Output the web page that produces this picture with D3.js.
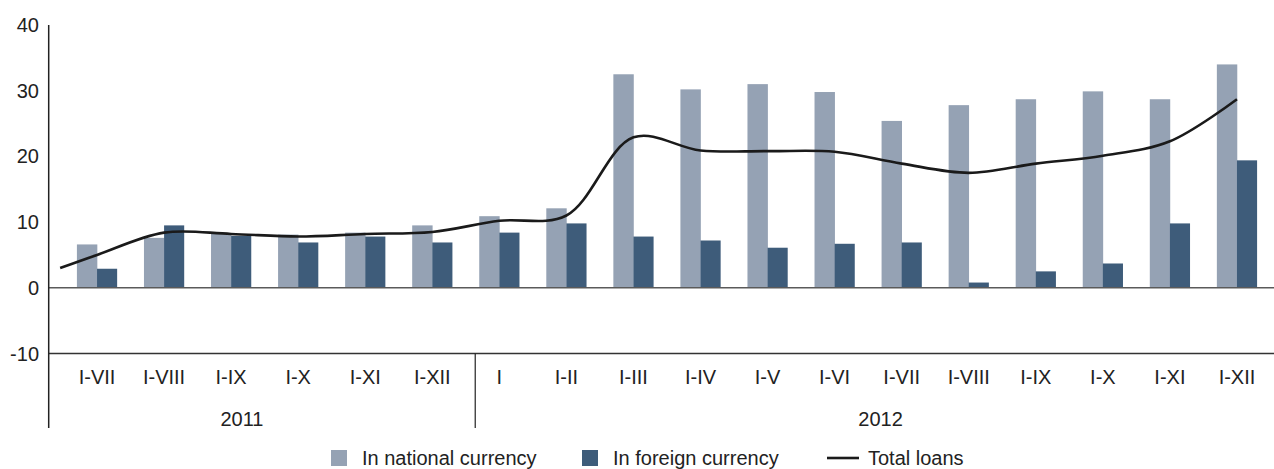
<!DOCTYPE html>
<html>
<head>
<meta charset="utf-8">
<script src="https://cdn.jsdelivr.net/npm/d3@7"></script>
<style>
  html, body { margin: 0; padding: 0; background: #fff; }
  svg { display: block; }
  text { font-family: "Liberation Sans", Arial, sans-serif; fill: #222; }
</style>
</head>
<body>
<svg id="chart" width="1274" height="469"></svg>
<script>
// ---- data ----
const categories = ["I-VII","I-VIII","I-IX","I-X","I-XI","I-XII",
                    "I","I-II","I-III","I-IV","I-V","I-VI","I-VII","I-VIII","I-IX","I-X","I-XI","I-XII"];
const years = ["2011","2012"];
const yearOfCategory = [0,0,0,0,0,0, 1,1,1,1,1,1,1,1,1,1,1,1];
const nationalCurrency = [6.6, 7.6, 8.2, 8.1, 8.4, 9.5,
                          10.9, 12.1, 32.5, 30.2, 31.0, 29.8, 25.4, 27.8, 28.7, 29.9, 28.7, 34.0];
const foreignCurrency  = [2.9, 9.5, 7.9, 6.9, 7.8, 6.9,
                          8.4, 9.8, 7.8, 7.2, 6.1, 6.7, 6.9, 0.8, 2.5, 3.7, 9.8, 19.4];
const totalLoansStart = 3.0;
const totalLoans       = [5.0, 8.4, 8.2, 7.8, 8.2, 8.5,
                          10.2, 11.0, 22.9, 20.9, 20.8, 20.7, 18.9, 17.5, 18.9, 20.1, 22.3, 28.7];
const yTicks = [-10, 0, 10, 20, 30, 40];
const seriesNames = ["In national currency", "In foreign currency", "Total loans"];

// ---- layout ----
const W = 1274, H = 469;
const axisLeft = 48.7, axisRight = 1274;
const colNat = "#95a2b4", colFor = "#3e5c7a", colLine = "#1a1a1a";

const svg = d3.select("#chart");
const keys = categories.map((c, i) => i);

const x0 = d3.scaleBand().domain(keys).range([63.5, 1270.5]).paddingInner(0.4).paddingOuter(0.2);
const x1 = d3.scaleBand().domain([0, 1]).range([0, x0.bandwidth()]).padding(0);
const y = d3.scaleLinear().domain([-10, 40]).range([353.5, 25]);
const cx = i => x0(i) + x0.bandwidth() / 2;

// y tick labels
svg.append("g").selectAll("text").data(yTicks).join("text")
  .attr("x", 39).attr("y", d => y(d)).attr("dy", "0.35em")
  .attr("text-anchor", "end").attr("font-size", 20).text(d => d);

// bars
const g = svg.append("g");
g.selectAll("rect.nat").data(nationalCurrency).join("rect").attr("class", "nat")
  .attr("x", (d, i) => x0(i) + x1(0)).attr("width", x1.bandwidth() + 0.3)
  .attr("y", d => y(Math.max(0, d))).attr("height", d => Math.abs(y(d) - y(0)))
  .attr("fill", colNat);
g.selectAll("rect.for").data(foreignCurrency).join("rect").attr("class", "for")
  .attr("x", (d, i) => x0(i) + x1(1)).attr("width", x1.bandwidth())
  .attr("y", d => y(Math.max(0, d))).attr("height", d => Math.abs(y(d) - y(0)))
  .attr("fill", colFor);

// zero line
svg.append("line").attr("x1", axisLeft).attr("x2", axisRight)
  .attr("y1", y(0)).attr("y2", y(0)).attr("stroke", "#5a5a5a").attr("stroke-width", 1.5);
// bottom line
svg.append("line").attr("x1", axisLeft).attr("x2", axisRight)
  .attr("y1", y(-10)).attr("y2", y(-10)).attr("stroke", "#333").attr("stroke-width", 1.5);
// y axis line
svg.append("line").attr("x1", axisLeft).attr("x2", axisLeft)
  .attr("y1", y(40)).attr("y2", 428).attr("stroke", "#222").attr("stroke-width", 1.5);

// year divider
const divX = cx(6) - x0.step() * 0.36;
svg.append("line").attr("x1", divX).attr("x2", divX)
  .attr("y1", y(-10)).attr("y2", 428).attr("stroke", "#222").attr("stroke-width", 1.2);

// line
const linePts = [[x0(0) - x0.step() * 0.25, totalLoansStart]]
  .concat(totalLoans.map((v, i) => [cx(i), v]));
const lineGen = d3.line().x(d => d[0]).y(d => y(d[1])).curve(d3.curveCatmullRom.alpha(0.5));
svg.append("path").attr("d", lineGen(linePts)).attr("fill", "none")
  .attr("stroke", colLine).attr("stroke-width", 2.6).attr("stroke-linejoin", "round");

// category labels
svg.append("g").selectAll("text").data(categories).join("text")
  .attr("x", (d, i) => cx(i)).attr("y", 377).attr("dy", "0.35em")
  .attr("text-anchor", "middle").attr("font-size", 20).text(d => d);

// year labels
const yearX = [(axisLeft + divX) / 2 - 20, (divX + axisRight) / 2 + 6];
svg.append("g").selectAll("text").data(years).join("text")
  .attr("x", (d, i) => yearX[i]).attr("y", 419).attr("dy", "0.35em")
  .attr("text-anchor", "middle").attr("font-size", 20).text(d => d);

// legend
const legY = 458;
const leg = svg.append("g");
const legX = [331, 582, 827];
leg.append("rect").attr("x", legX[0]).attr("y", legY - 8).attr("width", 16).attr("height", 16).attr("fill", colNat);
leg.append("rect").attr("x", legX[1]).attr("y", legY - 8).attr("width", 16).attr("height", 16).attr("fill", colFor);
leg.append("line").attr("x1", legX[2]).attr("x2", legX[2] + 32).attr("y1", legY).attr("y2", legY)
  .attr("stroke", colLine).attr("stroke-width", 2.6);
const legTextX = [362, 613, 868];
leg.selectAll("text").data(seriesNames).join("text")
  .attr("x", (d, i) => legTextX[i]).attr("y", legY).attr("dy", "0.35em")
  .attr("font-size", 20).text(d => d);
</script>
</body>
</html>
